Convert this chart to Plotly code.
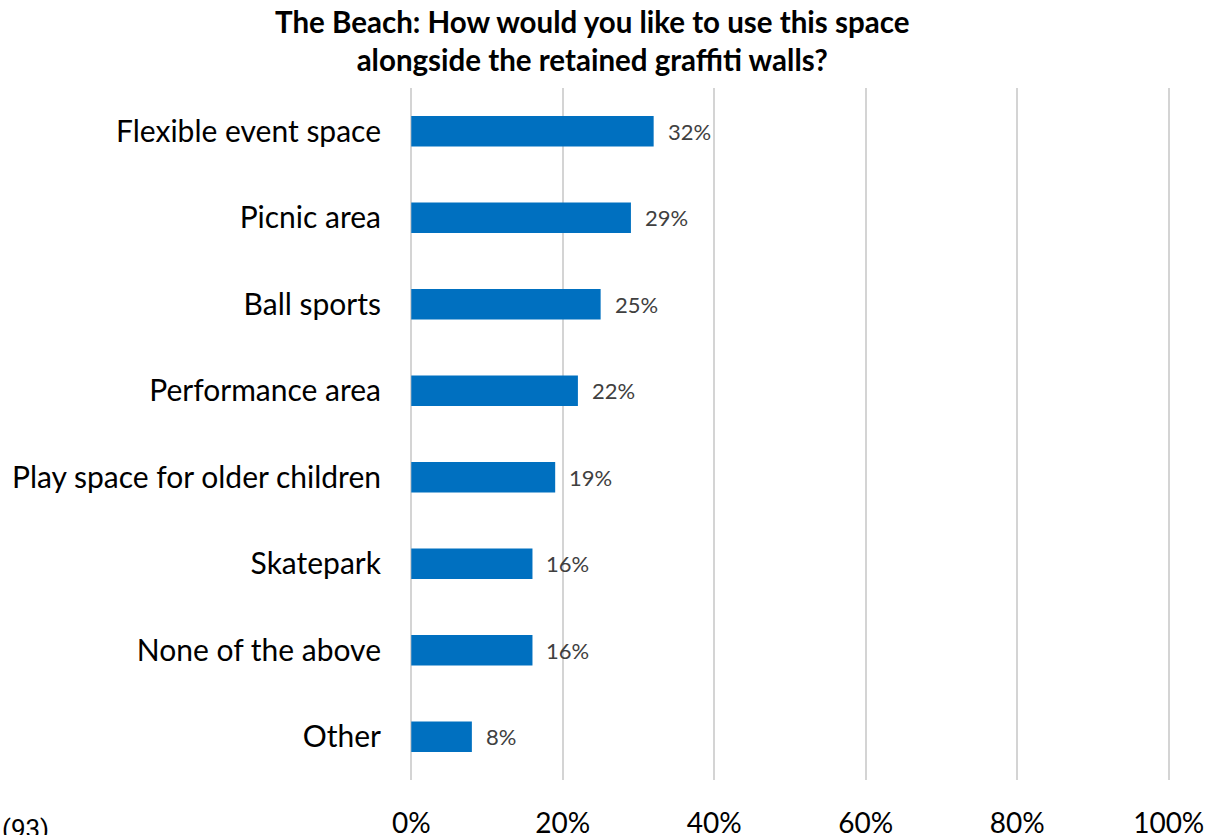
import plotly.graph_objects as go

# Survey responses, top to bottom
categories = [
    "Flexible event space",
    "Picnic area",
    "Ball sports",
    "Performance area",
    "Play space for older children",
    "Skatepark",
    "None of the above",
    "Other",
]
shares = [0.32, 0.29, 0.25, 0.22, 0.19, 0.16, 0.16, 0.08]
x_ticks = [0, 0.2, 0.4, 0.6, 0.8, 1.0]
x_tick_labels = ["0%", "20%", "40%", "60%", "80%", "100%"]
title_lines = [
    "The Beach: How would you like to use this space",
    "alongside the retained graffiti walls?",
]
sample_note = "(93)"

FONT = "Lato, Carlito, 'Open Sans', sans-serif"
BLUE = "#0070C0"
GRID = "#D4D4D4"

# plot box geometry (pixels)
W, H = 1211, 835
L, R, T, B = 409, 40, 88, 55
PW, PH = W - L - R, H - T - B
PAD = 0.003  # keeps the 0% and 100% gridlines inside the plot box

fig = go.Figure(
    go.Bar(
        x=shares,
        y=categories,
        orientation="h",
        width=0.35,
        marker=dict(color=BLUE, line=dict(width=0)),
        hoverinfo="skip",
    )
)

# value labels just right of each bar
annotations = [
    dict(
        x=v,
        y=c,
        xref="x",
        yref="y",
        text=f"{round(v * 100)}%",
        xanchor="left",
        yanchor="middle",
        xshift=12,
        showarrow=False,
        font=dict(family=FONT, size=22, color="#404040"),
    )
    for c, v in zip(categories, shares)
]

# two-line bold heading
annotations.append(
    dict(
        text="<b>" + "<br>".join(title_lines) + "</b>",
        xref="paper",
        yref="paper",
        x=(592 - L) / PW,
        y=(H - B - 2) / PH,
        xanchor="center",
        yanchor="top",
        align="center",
        showarrow=False,
        font=dict(family=FONT, size=29.5, color="#000000"),
    )
)

# respondent count, bottom left
annotations.append(
    dict(
        text=sample_note,
        xref="paper",
        yref="paper",
        x=-L / PW,
        y=(H - B - 829) / PH,
        xanchor="left",
        yanchor="middle",
        showarrow=False,
        font=dict(family="Roboto, Arial, sans-serif", size=26, color="#000000"),
    )
)

fig.update_layout(
    width=W,
    height=H,
    margin=dict(l=L, r=R, t=T, b=B, autoexpand=False),
    paper_bgcolor="white",
    plot_bgcolor="white",
    showlegend=False,
    annotations=annotations,
    xaxis=dict(
        range=[-PAD, 1.0 + PAD],
        tickvals=x_ticks,
        ticktext=x_tick_labels,
        showgrid=True,
        gridcolor=GRID,
        gridwidth=2,
        zeroline=False,
        showline=False,
        ticks="",
        automargin=False,
        ticklabelstandoff=24,
        tickfont=dict(family=FONT, size=28, color="#000000"),
    ),
    yaxis=dict(
        autorange="reversed",
        showgrid=False,
        zeroline=False,
        showline=False,
        ticks="",
        automargin=False,
        ticklabelstandoff=27,
        tickfont=dict(family=FONT, size=30, color="#000000"),
    ),
)

fig.write_html("out.html")
